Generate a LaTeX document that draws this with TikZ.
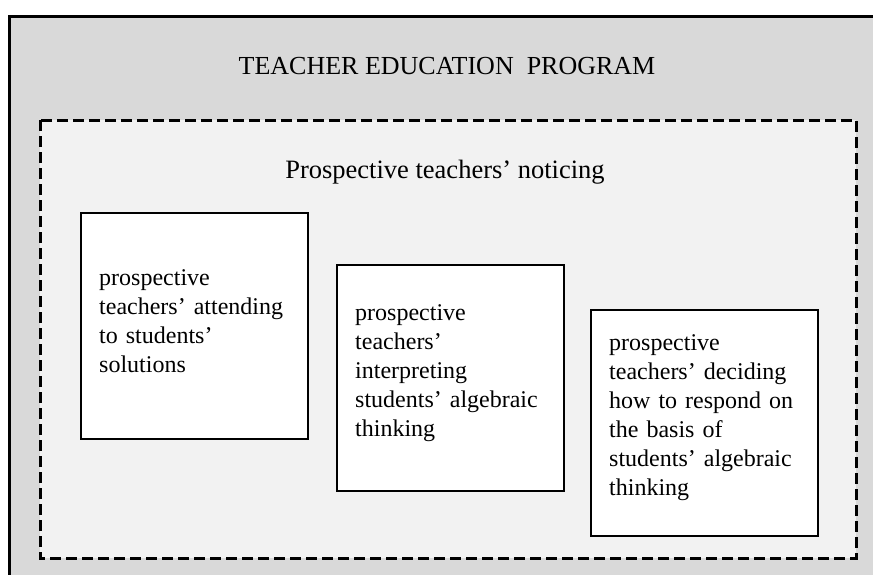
\documentclass[tikz,border=0pt]{standalone}
\usepackage{fontspec}
\setmainfont{Liberation Serif}
\definecolor{progGray}{HTML}{D9D9D9}
\definecolor{noticeGray}{HTML}{F2F2F2}
\begin{document}
\begin{tikzpicture}[x=1pt,y=-1pt,
    bigfont/.style={font=\fontsize{26}{31}\selectfont},
    stagebox/.style={draw,line width=2.4pt,fill=white,anchor=north west,
      minimum width=227pt,minimum height=226pt,text width=191pt,
      inner xsep=18pt,align=left,font=\fontsize{24}{29}\selectfont,
      execute at end node={\endgraf\vspace*{11pt}}}]
      \useasboundingbox (0,0) rectangle (873,574);
      \clip (0,0) rectangle (873,574);
      % program box, runs off the page to the right and bottom
      \fill[progGray] (9.5,16.5) rectangle (900,600);
      \draw[line width=3.2pt] (900,16.5)--(9.5,16.5)--(9.5,600);
      \node[bigfont,anchor=base] (program) at (447,74) {TEACHER EDUCATION\ \ PROGRAM};
      % noticing box
      \draw[line width=3pt,dash pattern=on 11pt off 5pt,fill=noticeGray] (40,120) rectangle (856,558);
      \node[bigfont,anchor=base,font=\fontsize{26.5}{31}\selectfont] (noticing) at (445,178) {Prospective teachers’ noticing};
      % the three components
      \node[stagebox] (attending) at (80,212) {prospective\\ teachers’ attending\\ to students’\\ solutions};
      \node[stagebox] (interpreting) at (336,264) {prospective\\ teachers’\\ interpreting\\ students’ algebraic\\ thinking};
      \node[stagebox] (deciding) at (590,309) {prospective\\ teachers’ deciding\\ how to respond on\\ the basis of\\ students’ algebraic\\ thinking};
\end{tikzpicture}
\end{document}
